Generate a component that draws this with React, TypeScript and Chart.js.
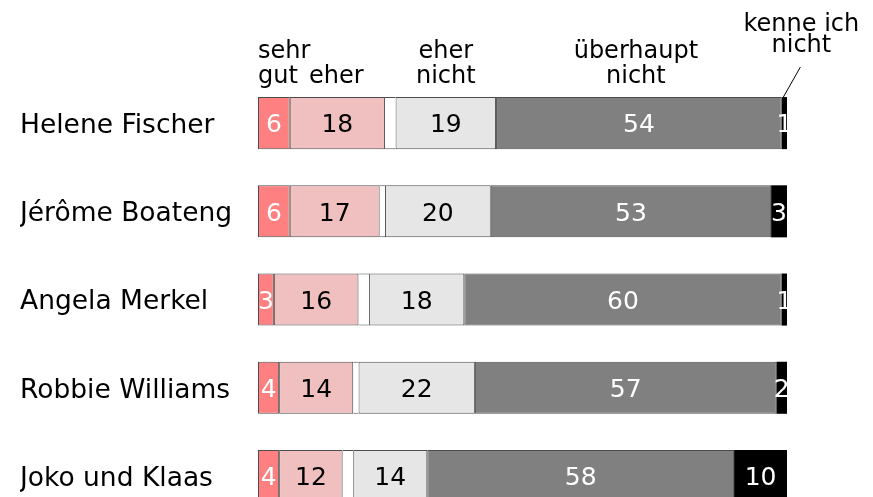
import React, { useEffect, useRef } from "react";
import { Chart, registerables } from "chart.js";

Chart.register(...registerables);

const categories = ["Helene Fischer", "Jérôme Boateng", "Angela Merkel", "Robbie Williams", "Joko und Klaas"];
const sehrGut = [6, 6, 3, 4, 4];
const eher = [18, 17, 16, 14, 12];
const luecke = [2, 1, 2, 1, 2];
const eherNicht = [19, 20, 18, 22, 14];
const ueberhauptNicht = [54, 53, 60, 57, 58];
const kenneIchNicht = [1, 3, 1, 2, 10];

const headerSehrGut = ["sehr", "gut"];
const headerEher = ["eher"];
const headerEherNicht = ["eher", "nicht"];
const headerUeberhaupt = ["überhaupt", "nicht"];
const headerKenne = ["kenne ich", "nicht"];

const FONT = "'DejaVu Sans', Verdana, sans-serif";

const labelPlugin = {
  id: "segmentLabels",
  afterDatasetsDraw(chart: any) {
    const ctx = chart.ctx;
    ctx.save();
    const valSize = 25;
    ctx.font = `${valSize}px ${FONT}`;
    ctx.textAlign = "center";
    ctx.textBaseline = "alphabetic";
    chart.data.datasets.forEach((ds: any, di: number) => {
      if (!ds.valueColor) return;
      const meta = chart.getDatasetMeta(di);
      meta.data.forEach((el: any, i: number) => {
        const p = el.getProps(["x", "base", "y"], true);
        ctx.fillStyle = ds.valueColor;
        ctx.fillText(String(ds.data[i]), (p.x + p.base) / 2, p.y + valSize * 0.37);
      });
    });

    // header labels, positioned relative to the first bar
    const seg = (di: number) => chart.getDatasetMeta(di).data[0].getProps(["x", "base", "y", "height"], true);
    const hs = 24;
    ctx.font = `${hs}px ${FONT}`;
    ctx.fillStyle = "#000";
    const s0 = seg(0);
    const top = s0.y - s0.height / 2;
    const line2 = top - 14;
    const line1 = line2 - 25;

    ctx.textAlign = "left";
    ctx.fillText(headerSehrGut[0], s0.base, line1);
    ctx.fillText(headerSehrGut[1], s0.base, line2);

    ctx.textAlign = "center";
    const s1 = seg(1);
    ctx.fillText(headerEher[0], (s1.x + s1.base) / 2 - 1, line2);

    const s3 = seg(3);
    const c3 = (s3.x + s3.base) / 2;
    ctx.fillText(headerEherNicht[0], c3, line1);
    ctx.fillText(headerEherNicht[1], c3, line2);

    const s4 = seg(4);
    const c4 = (s4.x + s4.base) / 2 - 3;
    ctx.fillText(headerUeberhaupt[0], c4, line1);
    ctx.fillText(headerUeberhaupt[1], c4, line2);

    const s5 = seg(5);
    const c5 = (s5.x + s5.base) / 2;
    const kx = c5 + 17;
    ctx.fillText(headerKenne[0], kx, top - 66);
    ctx.fillText(headerKenne[1], kx, top - 45);

    ctx.strokeStyle = "#000";
    ctx.lineWidth = 1;
    ctx.beginPath();
    ctx.moveTo(kx - 1, top - 30);
    ctx.lineTo(c5 - 1, top);
    ctx.stroke();
    ctx.restore();
  },
};

export default function App() {
  const ref = useRef<HTMLCanvasElement | null>(null);
  useEffect(() => {
    if (!ref.current) return;
    const border = "rgba(0,0,0,0.7)";
    const chart = new Chart(ref.current, {
      type: "bar",
      data: {
        labels: categories,
        datasets: [
          { label: "sehr gut", data: sehrGut, backgroundColor: "#FF8080", borderColor: border, borderWidth: 1, borderSkipped: false, valueColor: "#fff" } as any,
          { label: "eher", data: eher, backgroundColor: "#F0C0C0", borderColor: border, borderWidth: 1, borderSkipped: false, valueColor: "#000" } as any,
          { label: "", data: luecke, backgroundColor: "#fff", borderColor: border, borderWidth: { top: 1, bottom: 1, left: 0, right: 0 }, borderSkipped: false } as any,
          { label: "eher nicht", data: eherNicht, backgroundColor: "#E6E6E6", borderColor: border, borderWidth: 1, borderSkipped: false, valueColor: "#000" } as any,
          { label: "überhaupt nicht", data: ueberhauptNicht, backgroundColor: "#808080", borderColor: border, borderWidth: 1, borderSkipped: false, valueColor: "#fff" } as any,
          { label: "kenne ich nicht", data: kenneIchNicht, backgroundColor: "#000", borderColor: "#000", borderWidth: 0, borderSkipped: false, valueColor: "#fff" } as any,
        ],
      },
      options: {
        indexAxis: "y",
        responsive: false,
        animation: false,
        devicePixelRatio: 1,
        layout: { padding: { left: 20, right: 86, top: 79, bottom: 9.6 } },
        datasets: { bar: { categoryPercentage: 1, barPercentage: 0.59 } },
        plugins: { legend: { display: false }, tooltip: { enabled: false } },
        scales: {
          x: { type: "linear", stacked: true, min: 0, max: 100, display: false },
          y: {
            type: "category",
            stacked: true,
            grid: { display: false },
            border: { display: false },
            ticks: { crossAlign: "far", color: "#000", padding: 0, labelOffset: 3, font: { family: FONT, size: 26.5 } },
            afterFit: (scale: any) => { scale.width = 238; },
          },
        },
      } as any,
      plugins: [labelPlugin],
    });
    return () => chart.destroy();
  }, []);
  return (
    <div style={{ position: "fixed", left: 0, top: 0, width: 873, height: 497, overflow: "hidden", background: "#fff" }}>
      <canvas ref={ref} width={873} height={536} style={{ width: 873, height: 536, display: "block" }} />
    </div>
  );
}
